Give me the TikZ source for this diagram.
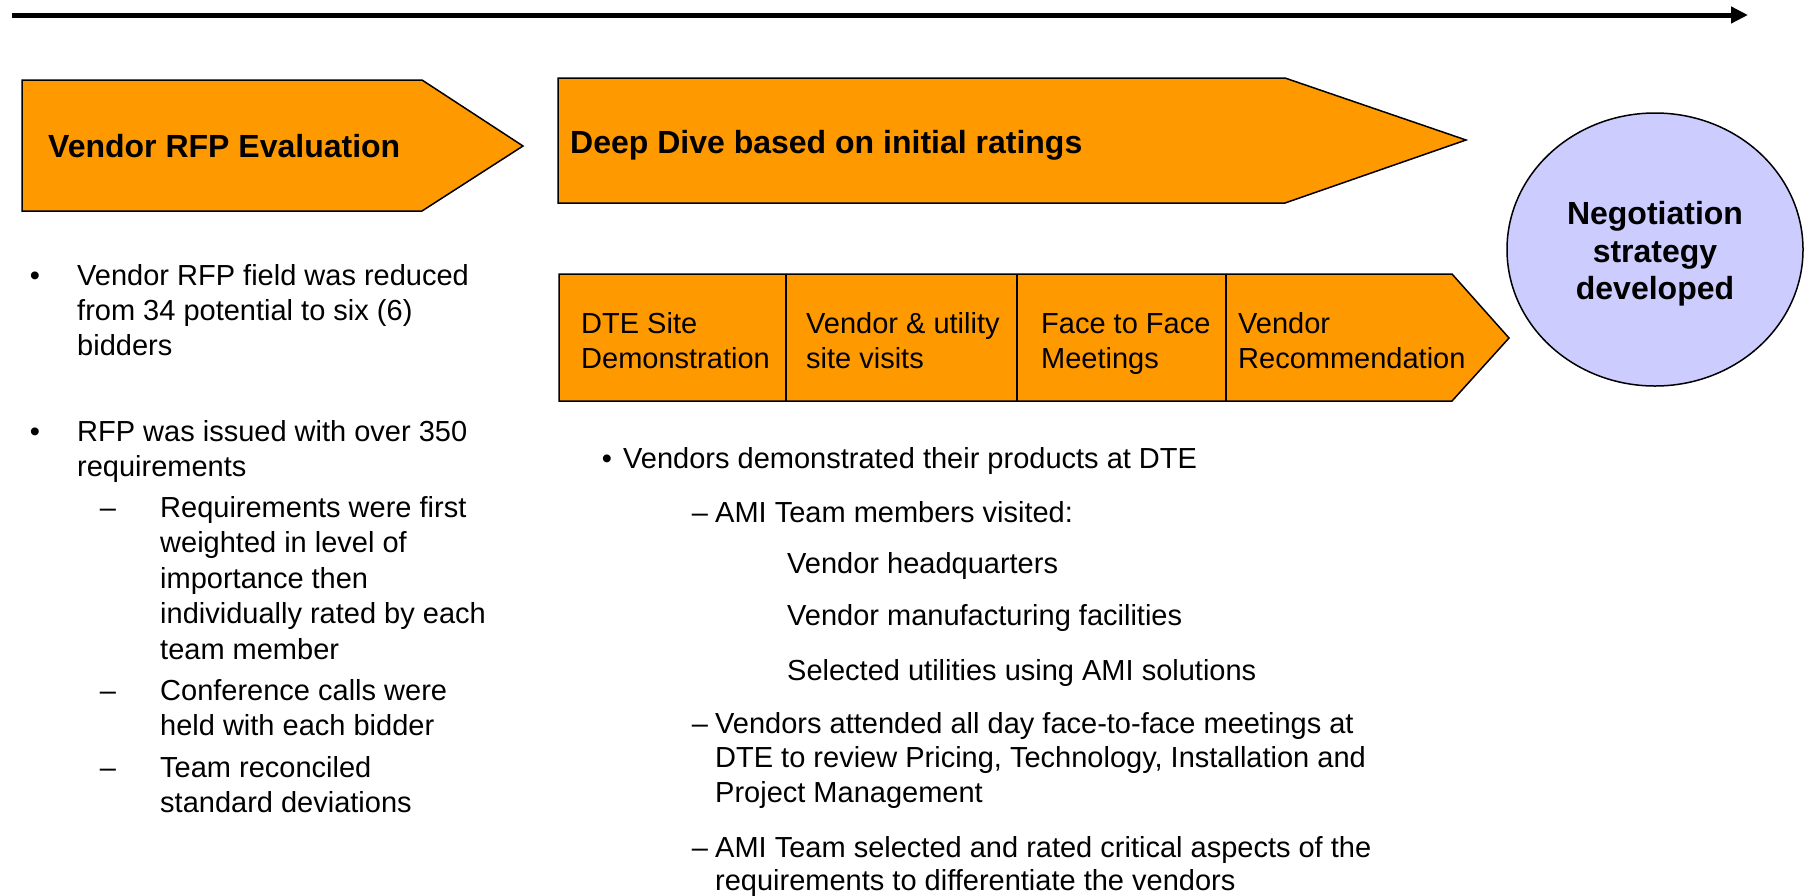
\documentclass[tikz,border=0pt]{standalone}
\usepackage{fontspec}
\setmainfont{Liberation Sans}
\usetikzlibrary{arrows.meta,shapes.geometric}
\definecolor{orng}{HTML}{FF9900}
\definecolor{lav}{HTML}{CCCCFF}
\begin{document}
\begin{tikzpicture}[x=1pt,y=-1pt,
  shapebox/.style={draw=black, fill=orng, line width=1.5pt, line join=miter},
  txt/.style={anchor=base west, inner sep=0pt, font=\fontsize{29}{35}\selectfont},
  btxt/.style={anchor=base west, inner sep=0pt, font=\fontsize{32}{38}\selectfont\bfseries},
  ctxt/.style={anchor=base, inner sep=0pt, font=\fontsize{32}{38}\selectfont\bfseries},
  bul/.style={anchor=base, inner sep=0pt, font=\fontsize{29}{35}\selectfont},
  timeline/.style={line width=5pt, -{Triangle[length=17pt,width=16pt]}}
]
\useasboundingbox (0,0) rectangle (1809,895);

% timeline arrow
\coordinate (as) at (12,15);
\coordinate (ae) at (1748,15);
\draw[timeline] (as) -- (ae);

% phase 1 pentagon
\draw[shapebox] (22,80) -- (422,80) -- (523,146) -- (422,211) -- (22,211) -- cycle;
\node[btxt] (p1) at (48,157) {Vendor RFP Evaluation};

% phase 2 pentagon
\draw[shapebox] (558,78) -- (1285,78) -- (1466,140) -- (1285,203) -- (558,203) -- cycle;
\node[btxt] (p2) at (570,153) {Deep Dive based on initial ratings};

% step row
\draw[shapebox] (559,274) -- (1452,274) -- (1509,338) -- (1452,401) -- (559,401) -- cycle;
\draw[line width=1.5pt] (786,274) -- (786,401);
\draw[line width=1.5pt] (1017,274) -- (1017,401);
\draw[line width=1.5pt] (1226,274) -- (1226,401);
\node[txt] (s1a) at (581,333) {DTE Site};
\node[txt] (s1b) at (581,368) {Demonstration};
\node[txt] (s2a) at (806,333) {Vendor \& utility};
\node[txt] (s2b) at (806,368) {site visits};
\node[txt] (s3a) at (1041,333) {Face to Face};
\node[txt] (s3b) at (1041,368) {Meetings};
\node[txt] (s4a) at (1238,333) {Vendor};
\node[txt] (s4b) at (1238,368) {Recommendation};

% ellipse
\node[draw=black, fill=lav, ellipse, line width=1.5pt, minimum width=296pt, minimum height=273pt, inner sep=0pt] (neg) at (1655,249.5) {};
\node[ctxt] (n1) at (1655,224) {Negotiation};
\node[ctxt] (n2) at (1655,262) {strategy};
\node[ctxt] (n3) at (1655,299) {developed};

% left column
\node[bul] (lb1) at (35,285) {•};
\node[txt] (l1) at (77,285) {Vendor RFP field was reduced};
\node[txt] (l2) at (77,320) {from 34 potential to six (6)};
\node[txt] (l3) at (77,355) {bidders};
\node[bul] (lb2) at (35,441) {•};
\node[txt] (l4) at (77,441) {RFP was issued with over 350};
\node[txt] (l5) at (77,476) {requirements};
\node[bul] (ld1) at (108,517) {–};
\node[txt] (l6) at (160,517) {Requirements were first};
\node[txt] (l7) at (160,552) {weighted in level of};
\node[txt] (l8) at (160,588) {importance then};
\node[txt] (l9) at (160,623) {individually rated by each};
\node[txt] (l10) at (160,659) {team member};
\node[bul] (ld2) at (108,700) {–};
\node[txt] (l11) at (160,700) {Conference calls were};
\node[txt] (l12) at (160,735) {held with each bidder};
\node[bul] (ld3) at (108,777) {–};
\node[txt] (l13) at (160,777) {Team reconciled};
\node[txt] (l14) at (160,812) {standard deviations};

% middle column
\node[bul] (mb1) at (607,468) {•};
\node[txt] (m1) at (623,468) {Vendors demonstrated their products at DTE};
\node[bul] (md1) at (700,522) {–};
\node[txt] (m2) at (715,522) {AMI Team members visited:};
\node[txt] (m3) at (787,573) {Vendor headquarters};
\node[txt] (m4) at (787,625) {Vendor manufacturing facilities};
\node[txt] (m5) at (787,680) {Selected utilities using AMI solutions};
\node[bul] (md2) at (700,733) {–};
\node[txt] (m6) at (715,733) {Vendors attended all day face-to-face meetings at};
\node[txt] (m7) at (715,767) {DTE to review Pricing, Technology, Installation and};
\node[txt] (m8) at (715,802) {Project Management};
\node[bul] (md3) at (700,857) {–};
\node[txt] (m9) at (715,857) {AMI Team selected and rated critical aspects of the};
\node[txt] (m10) at (715,890) {requirements to differentiate the vendors};
\end{tikzpicture}
\end{document}
